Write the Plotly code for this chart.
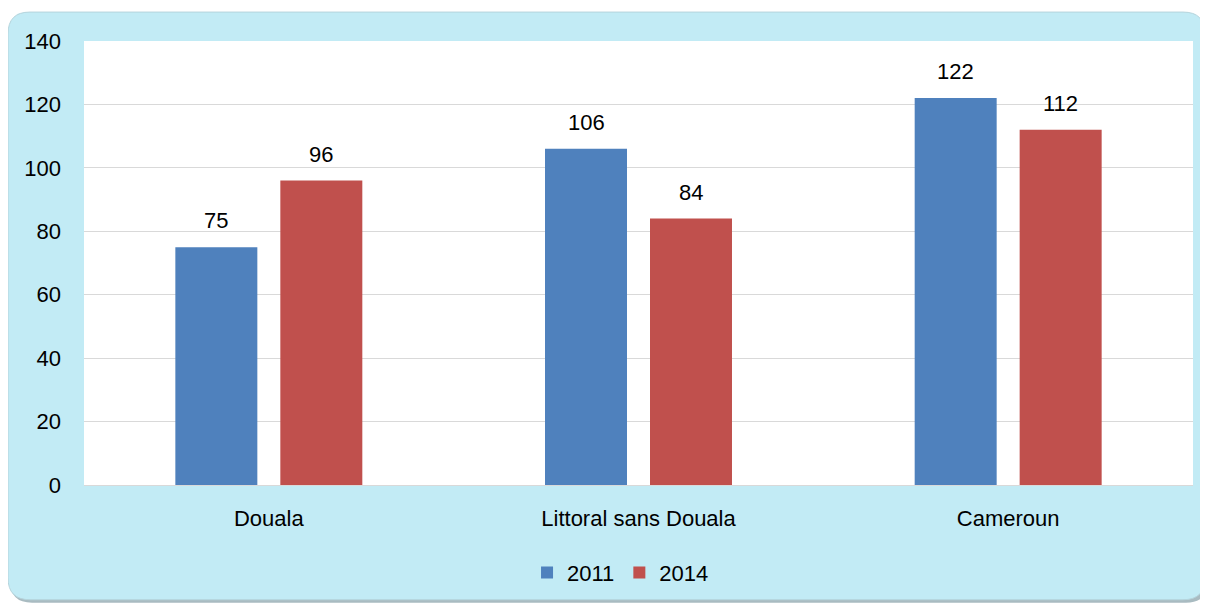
import plotly.graph_objects as go

categories = ["Douala", "Littoral sans Douala", "Cameroun"]
series_names = ["2011", "2014"]
values_2011 = [75, 106, 122]
values_2014 = [96, 84, 112]
y_ticks = [0, 20, 40, 60, 80, 100, 120, 140]

FONT = "Liberation Sans, Arial, sans-serif"
OFF = 8  # page body margin offset
W, H = 1208 - OFF, 604 - OFF
L, R, T, B = 84 - OFF, 1193 - OFF, 41 - OFF, 486 - OFF
PW, PH = R - L, B - T


def px(x):
    return (x - OFF - L) / PW


def py(y):
    return (B - (y - OFF)) / PH


def rounded(x0, y0, x1, y1, r):
    return (
        f"M {px(x0 + r)},{py(y0)} L {px(x1 - r)},{py(y0)} "
        f"Q {px(x1)},{py(y0)} {px(x1)},{py(y0 + r)} "
        f"L {px(x1)},{py(y1 - r)} Q {px(x1)},{py(y1)} {px(x1 - r)},{py(y1)} "
        f"L {px(x0 + r)},{py(y1)} Q {px(x0)},{py(y1)} {px(x0)},{py(y1 - r)} "
        f"L {px(x0)},{py(y0 + r)} Q {px(x0)},{py(y0)} {px(x0 + r)},{py(y0)} Z"
    )


fig = go.Figure()
fig.add_trace(go.Bar(
    x=categories, y=values_2011, name=series_names[0],
    marker=dict(color="#4F81BD", line=dict(width=0)),
))
fig.add_trace(go.Bar(
    x=categories, y=values_2014, name=series_names[1],
    marker=dict(color="#C0504D", line=dict(width=0)),
))

# data labels above the bars (offset to each bar of the group)
annotations = []
for vals, shift in ((values_2011, -52.5), (values_2014, 52.5)):
    for c, v in zip(categories, vals):
        annotations.append(dict(
            x=c, y=v, xref="x", yref="y", text=str(v), showarrow=False,
            xshift=shift, yshift=12, yanchor="bottom",
            font=dict(family=FONT, size=22, color="#000000"),
        ))

shapes = [
    dict(type="path", xref="paper", yref="paper", layer="below",
         path=rounded(10, 15, 1208, 604, 22),
         fillcolor="#A9BBC1", line=dict(width=0)),
    dict(type="path", xref="paper", yref="paper", layer="below",
         path=rounded(8, 12, 1205, 601, 22),
         fillcolor="#C2EBF5", line=dict(color="#B5D4DC", width=1)),
    dict(type="rect", xref="paper", yref="paper", layer="below",
         x0=0, x1=1, y0=0, y1=1, fillcolor="#FFFFFF", line=dict(width=0)),
]

fig.update_layout(
    width=W, height=H,
    margin=dict(l=L, r=W - R, t=T, b=H - B),
    paper_bgcolor="#FFFFFF", plot_bgcolor="#FFFFFF",
    barmode="group", bargap=0.432, bargroupgap=0.219,
    font=dict(family=FONT, size=22, color="#000000"),
    shapes=shapes, annotations=annotations,
    showlegend=True,
    legend=dict(orientation="h", x=0.4838, xanchor="center", y=-0.195, yanchor="middle",
                font=dict(family=FONT, size=22, color="#000000"),
                bgcolor="rgba(0,0,0,0)", itemwidth=30, traceorder="normal"),
    xaxis=dict(showgrid=False, showline=True, linecolor="#D9D9D9", linewidth=1,
               ticks="", ticklabelstandoff=14,
               tickfont=dict(family=FONT, size=22, color="#000000")),
    yaxis=dict(range=[0, 140], tickvals=y_ticks, showgrid=True, gridcolor="#D9D9D9",
               gridwidth=1, zeroline=False, showline=False, ticks="",
               ticklabelstandoff=22,
               tickfont=dict(family=FONT, size=22, color="#000000")),
)

fig.write_html("out.html")
